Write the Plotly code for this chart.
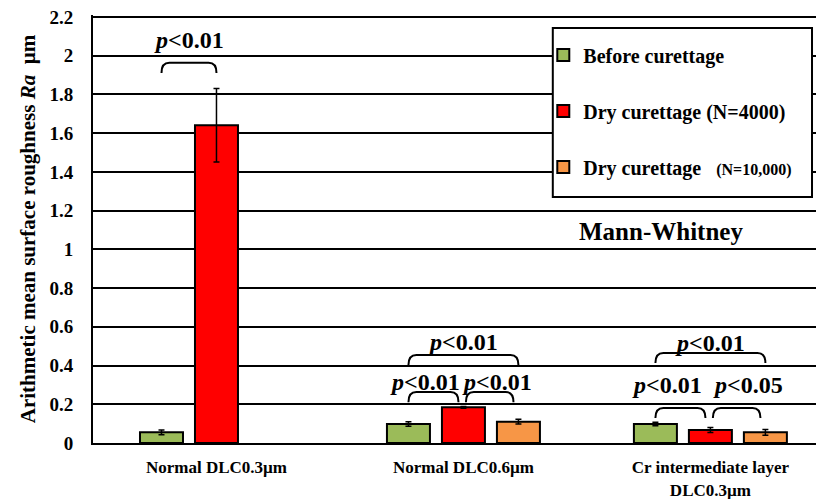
import plotly.graph_objects as go

categories = ["Normal DLC0.3µm", "Normal DLC0.6µm", "Cr intermediate layer<br>DLC0.3µm"]
series_names = ["Before curettage", "Dry curettage (N=4000)",
                "Dry curettage\u00a0\u00a0 <span style='font-size:16px'>(N=10,000)</span>"]
before = [0.055, 0.098, 0.098]
before_err = [0.012, 0.012, 0.009]
dry4000 = [1.641, 0.184, 0.067]
dry4000_err = [0.19, 0.004, 0.013]
dry10000 = [None, 0.11, 0.055]
dry10000_err = [0, 0.012, 0.015]
colors = ["#9BBB59", "#FF0000", "#F79646"]
y_ticks = [0, 0.2, 0.4, 0.6, 0.8, 1, 1.2, 1.4, 1.6, 1.8, 2, 2.2]

# significance brackets: (group, bar_a, bar_b, top level, p, value, label x offset, label y)
brackets = [
    (0, 0, 1, 1.963, "p", "0.01", 0.0, 2.08),
    (1, 0, 2, 0.455, "p", "0.01", 0.0, 0.522),
    (1, 0, 1, 0.263, "p", "0.01", -0.035, 0.315),
    (1, 1, 2, 0.263, "p", "0.01", 0.03, 0.315),
    (2, 0, 2, 0.465, "p", "0.01", 0.0, 0.517),
    (2, 0, 1, 0.181, "p", "0.01", -0.055, 0.30),
    (2, 1, 2, 0.181, "p", "0.05", 0.045, 0.30),
]

FONT = "Liberation Serif"
bargap = 0.332
slot = (1 - bargap) / 3
xs = list(range(len(categories)))

fig = go.Figure()
for i, (vals, errs) in enumerate([(before, before_err), (dry4000, dry4000_err), (dry10000, dry10000_err)]):
    fig.add_trace(go.Bar(
        x=xs, y=vals, name=series_names[i], legendgroup=str(i),
        marker=dict(color=colors[i], line=dict(color="black", width=2)),
        error_y=dict(type="data", array=errs, color="black", thickness=1.5, width=3),
    ))

shapes = []
annotations = []
dx = 0.032
for g, a, b, ytop, p, val, toff, ty in brackets:
    x1 = g + (a - 1) * slot
    x2 = g + (b - 1) * slot
    if b - a == 1 and len([1 for br in brackets if br[0] == g]) == 3:
        if a == 0:
            x2 -= 0.02
        else:
            x1 += 0.01
            x2 -= 0.02
    ybot = ytop - 0.052
    path = (f"M {x1},{ybot} Q {x1},{ytop} {x1+dx},{ytop} "
            f"L {x2-dx},{ytop} Q {x2},{ytop} {x2},{ybot}")
    shapes.append(dict(type="path", xref="x", yref="y", path=path,
                       line=dict(color="black", width=2)))
    annotations.append(dict(x=(x1 + x2) / 2 + toff, y=ty, xref="x", yref="y",
                            text=f"<i>{p}</i>&lt;{val}", showarrow=False,
                            font=dict(family=FONT, size=24, color="black", weight="bold")))

# legend box (in data units of the value axis so it stays aligned with the grid)
shapes.append(dict(type="rect", xref="paper", yref="y", x0=0.629, x1=0.9836, y0=1.27, y1=2.143,
                   line=dict(color="black", width=2), fillcolor="white", layer="above"))
annotations.append(dict(x=1.8, y=1.09, xref="x", yref="y", text="Mann-Whitney", showarrow=False,
                        font=dict(family=FONT, size=25, color="black", weight="bold")))

fig.update_layout(
    width=816, height=491,
    margin=dict(l=85, r=0, t=7, b=56, autoexpand=False),
    paper_bgcolor="white", plot_bgcolor="white",
    barmode="group", bargap=bargap, bargroupgap=0.218,
    font=dict(family=FONT, color="black", weight="bold"),
    shapes=shapes, annotations=annotations,
    legend=dict(x=0.616, y=0.952, xanchor="left", yanchor="top", bgcolor="rgba(0,0,0,0)",
                borderwidth=0, tracegroupgap=27,
                font=dict(family=FONT, size=20, color="black", weight="bold")),
    showlegend=True,
)
fig.update_xaxes(range=[-0.5, 2.46], tickvals=xs, ticktext=categories, showgrid=False,
                 showline=True, linecolor="black", linewidth=2, ticks="", zeroline=False,
                 automargin=False,
                 tickfont=dict(family=FONT, size=17, color="black", weight="bold"),
                 ticklabelstandoff=8)
fig.update_yaxes(range=[0, 2.21], tickvals=y_ticks, showgrid=True, gridcolor="black", gridwidth=2,
                 showline=True, linecolor="black", linewidth=2, zeroline=False, ticks="",
                 automargin=False, ticklabeloverflow="allow",
                 tickfont=dict(family=FONT, size=19, color="black", weight="bold"),
                 ticklabelstandoff=14,
                 title=dict(text="Arithmetic mean surface roughness <i>Ra</i>\u00a0\u00a0µm", standoff=8,
                            font=dict(family=FONT, size=21, color="black", weight="bold")))

fig.write_html("out.html")
